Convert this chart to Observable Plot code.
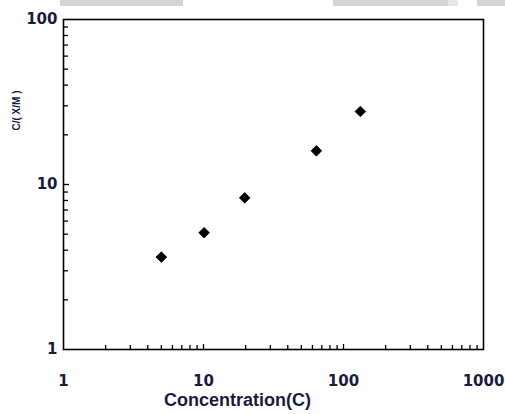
<!DOCTYPE html>
<html>
<head>
<meta charset="utf-8">
<script src="https://cdn.jsdelivr.net/npm/d3@7"></script>
<script src="https://cdn.jsdelivr.net/npm/@observablehq/plot@0.6"></script>
<style>
  html, body { margin: 0; padding: 0; background: #fff; }
  #wrap { position: relative; width: 505px; height: 414px; overflow: hidden; }
  .bar { position: absolute; top: 0; height: 6px; background: #d4d4d4; }
</style>
</head>
<body>
<div id="wrap">
  <div id="chart"></div>
  <div class="bar" style="left:60px;width:123px"></div>
  <div class="bar" style="left:333px;width:115px"></div>
  <div class="bar" style="left:448px;width:10px;background:#e6e6e6"></div>
  <div class="bar" style="left:477px;width:28px"></div>
</div>
<script>
// Data
const concentration = [5.0, 10.1, 19.7, 64, 132];
const ratio = [3.63, 5.1, 8.3, 16.0, 27.7];

const xTickLabels = [1, 10, 100, 1000];
const yTickLabels = [1, 10, 100];
const xMajor = [10, 100];
const xMinor = [2,3,4,5,6,7,8,9,20,30,40,50,60,70,80,90,200,300,400,500,600,700,800,900];
const yMajor = [10];
const yMinor = [2,3,4,5,6,7,8,9,20,30,40,50,60,70,80,90];

const points = concentration.map((c, i) => ({c, r: ratio[i]}));

const W = 505, H = 414;
const mL = 63, mR = 22, mT = 19, mB = 65;
const pw = W - mL - mR, ph = H - mT - mB;
const ink = "#1b1b3f";

const chart = Plot.plot({
  width: W,
  height: H,
  marginLeft: mL,
  marginRight: mR,
  marginTop: mT,
  marginBottom: mB,
  style: {fontFamily: "DejaVu Sans", fontWeight: "bold", fontSize: "15px", color: ink, background: "transparent"},
  x: {type: "log", domain: [1, 1000]},
  y: {type: "log", domain: [1, 100]},
  marks: [
    Plot.axisX({ticks: xTickLabels, tickSize: 0, tickPadding: 26, tickFormat: d => String(d), label: null, fill: ink, fontSize: 15}),
    Plot.axisY({ticks: yTickLabels, tickSize: 0, tickPadding: 6, tickFormat: d => String(d), label: null, fill: ink, fontSize: 15}),
    Plot.tickX(xMajor, {x: d => d, insetTop: ph - 5, stroke: "black", strokeWidth: 1.3}),
    Plot.tickX(xMinor, {x: d => d, insetTop: ph - 4, stroke: "black", strokeWidth: 1.3}),
    Plot.tickY(yMajor, {y: d => d, insetRight: pw - 6, stroke: "black", strokeWidth: 1.3}),
    Plot.tickY(yMinor, {y: d => d, insetRight: pw - 5, stroke: "black", strokeWidth: 1.3}),
    Plot.frame({stroke: "black", strokeWidth: 1.6}),
    Plot.dot(points, {x: "c", y: "r", symbol: "diamond2", r: 4.8, fill: "black", stroke: "black", strokeWidth: 0.8}),
    Plot.text(["Concentration(C)"], {frameAnchor: "bottom", dy: 56, dx: -36, fontFamily: "Liberation Sans", fontWeight: "bold", fontSize: 18, fill: ink}),
    Plot.text(["C/( X/M )"], {frameAnchor: "top-left", rotate: -90, textAnchor: "middle", lineAnchor: "middle", dx: -47, dy: 91, fontFamily: "Liberation Sans", fontWeight: "bold", fontSize: 10, fill: ink})
  ]
});
document.getElementById("chart").appendChild(chart);
</script>
</body>
</html>
